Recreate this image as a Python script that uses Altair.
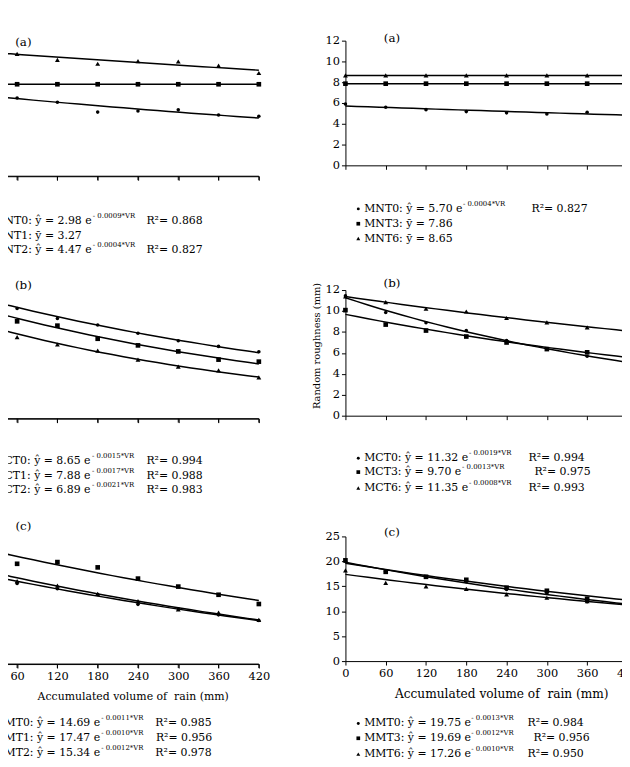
import altair as alt
import pandas as pd

# ---------------- data ----------------
VR = [0, 60, 120, 180, 240, 300, 360, 420]

# (a) no tillage
ONT0 = [3.00, 2.78, 2.63, 2.28, 2.32, 2.36, 2.18, 2.13]
ONT1 = [3.27, 3.27, 3.27, 3.27, 3.27, 3.27, 3.27, 3.27]
ONT2 = [4.50, 4.35, 4.14, 4.00, 4.09, 4.08, 3.93, 3.67]
MNT0 = [5.90, 5.59, 5.36, 5.17, 5.05, 4.95, 5.11, 4.92]
MNT3 = [7.86, 7.86, 7.86, 7.86, 7.86, 7.86, 7.86, 7.86]
MNT6 = [8.65, 8.65, 8.65, 8.65, 8.65, 8.65, 8.65, 8.65]
# (b) chisel
OCT0 = [8.60, 7.65, 6.96, 6.50, 5.93, 5.41, 5.02, 4.65]
OCT1 = [7.90, 6.76, 6.46, 5.55, 5.09, 4.67, 4.10, 3.96]
OCT2 = [6.85, 5.66, 5.15, 4.72, 4.10, 3.62, 3.35, 2.87]
MCT0 = [11.44, 9.86, 8.88, 8.13, 7.18, 6.40, 5.67, 5.13]
MCT3 = [10.08, 8.70, 8.13, 7.56, 6.99, 6.36, 6.05, 5.80]
MCT6 = [11.40, 10.84, 10.21, 9.95, 9.33, 8.92, 8.44, 8.13]
# (c) plough
OMT0 = [14.70, 13.37, 12.78, 12.15, 11.05, 10.57, 9.88, 9.25]
OMT1 = [17.40, 15.57, 15.76, 15.17, 13.92, 13.03, 12.12, 11.09]
OMT2 = [15.30, 13.63, 13.14, 12.23, 11.42, 10.50, 10.13, 9.33]
MMT0 = [20.00, 18.00, 16.90, 15.90, 14.35, 13.55, 11.90, 11.65]
MMT3 = [20.20, 17.90, 16.90, 16.30, 14.70, 14.10, 12.50, 12.80]
MMT6 = [18.20, 15.70, 15.00, 14.50, 13.36, 12.70, 12.00, 11.50]

LEG_LA = [("ONT0: ŷ = 2.98 e", "- 0.0009*VR", "R²= 0.868"),
          ("ONT1: ȳ = 3.27", "", ""),
          ("ONT2: ŷ = 4.47 e", "- 0.0004*VR", "R²= 0.827")]
LEG_RA = [("MNT0: ŷ = 5.70 e", "- 0.0004*VR", "R²= 0.827"),
          ("MNT3: ȳ = 7.86", "", ""),
          ("MNT6: ȳ = 8.65", "", "")]
LEG_LB = [("OCT0: ŷ = 8.65 e", "- 0.0015*VR", "R²= 0.994"),
          ("OCT1: ŷ = 7.88 e", "- 0.0017*VR", "R²= 0.988"),
          ("OCT2: ŷ = 6.89 e", "- 0.0021*VR", "R²= 0.983")]
LEG_RB = [("MCT0: ŷ = 11.32 e", "- 0.0019*VR", "R²= 0.994"),
          ("MCT3: ŷ = 9.70 e", "- 0.0013*VR", "R²= 0.975"),
          ("MCT6: ŷ = 11.35 e", "- 0.0008*VR", "R²= 0.993")]
LEG_LC = [("OMT0: ŷ = 14.69 e", "- 0.0011*VR", "R²= 0.985"),
          ("OMT1: ŷ = 17.47 e", "- 0.0010*VR", "R²= 0.956"),
          ("OMT2: ŷ = 15.34 e", "- 0.0012*VR", "R²= 0.978")]
LEG_RC = [("MMT0: ŷ = 19.75 e", "- 0.0013*VR", "R²= 0.984"),
          ("MMT3: ŷ = 19.69 e", "- 0.0012*VR", "R²= 0.956"),
          ("MMT6: ŷ = 17.26 e", "- 0.0010*VR", "R²= 0.950")]

X_TITLE = "Accumulated volume of\u00a0 rain (mm)"
Y_TITLE = "Random roughness (mm)"

# ---------------- styling / layout ----------------
FONT = "DejaVu Serif"
LEG_FS = 11
EXP_FS = 7
SHAPES = ["circle", "square", "triangle-up"]
PT_SIZES = [13, 22, 24]
SYM_SIZES = [9, 14, 16]
PW = 285

CW = {" ": 0.318, ".": 0.318, ":": 0.337, "=": 0.838, "e": 0.592, "ŷ": 0.592,
      "ȳ": 0.592, "M": 0.94, "N": 0.81, "O": 0.80, "C": 0.73, "T": 0.69}


def tw(s, size):
    return sum(CW.get(c, 0.636) for c in s) * size


def blank():
    return alt.Chart(alt.Data(values=[{}]))


def txt(s, x, y, size, align="left"):
    return blank().mark_text(text=s, font=FONT, fontSize=size, align=align,
                             baseline="middle", color="black").encode(
        x=alt.value(x), y=alt.value(y))


def sym(i, x, y):
    return blank().mark_point(shape=SHAPES[i], filled=True, size=SYM_SIZES[i],
                              color="black", opacity=1).encode(
        x=alt.value(x), y=alt.value(y))


def anchor(x, y):
    return blank().mark_rule(opacity=0).encode(
        x=alt.value(x), x2=alt.value(x + 1), y=alt.value(y), y2=alt.value(y))


def panel(names, series, ydom, h, yvals=None, ytitle=None, xlabels=False,
          xtitle=None, xtitle_fs=12, tag="", tag_y=0, leg=None, leg_y=None,
          r2x=None, xoff=0, anchors=()):
    df = pd.DataFrame({
        "VR": VR * 3,
        "y": series[0] + series[1] + series[2],
        "s": [names[0]] * 8 + [names[1]] * 8 + [names[2]] * 8,
    })
    xs = alt.Scale(domain=[0, 420], nice=False, zero=False)
    ys = alt.Scale(domain=ydom, nice=False, zero=False)
    xax = alt.Axis(values=VR, grid=False, tickSize=4, labels=xlabels,
                   labelPadding=3, labelFlush=False, labelOverlap=False,
                   offset=xoff, domain=True, ticks=True, title=None)
    X = alt.X("VR:Q", scale=xs, axis=xax)
    if yvals is not None:
        ykw = dict(values=yvals, grid=False, tickSize=4, labelPadding=2,
                   domain=True, ticks=True)
        if ytitle:
            yax = alt.Axis(title=ytitle, titleFontSize=10, titlePadding=4,
                           titleY=56, **ykw)
        else:
            yax = alt.Axis(title=None, **ykw)
        Y = alt.Y("y:Q", scale=ys, axis=yax)
    else:
        Y = alt.Y("y:Q", scale=ys, axis=None)

    base = alt.Chart(df)
    layers = [
        base.transform_regression("VR", "y", method="exp", groupby=["s"])
        .mark_line(color="black", strokeWidth=1.5)
        .encode(x=X, y=Y, detail="s:N")
    ]
    for i, n in enumerate(names):
        layers.append(
            base.transform_filter(alt.datum.s == n)
            .mark_point(shape=SHAPES[i], filled=True, size=PT_SIZES[i],
                        color="black", opacity=1)
            .encode(x=X, y=Y)
        )
    if yvals is None:
        # baseline and ticks of the bottom axis, drawn explicitly
        yb = h + xoff
        layers.append(blank().mark_rule(color="black", strokeWidth=1).encode(
            x=alt.value(0), x2=alt.value(PW), y=alt.value(yb)))
        layers.append(
            alt.Chart(pd.DataFrame({"t": VR})).mark_rule(color="black", strokeWidth=1)
            .encode(x=alt.X("t:Q", scale=xs, axis=xax),
                    y=alt.value(yb), y2=alt.value(yb + 4))
        )
    if xtitle:
        layers.append(txt(xtitle, 158, h + 33, xtitle_fs, align="center"))
    layers.append(txt(tag, 47, tag_y, 12, align="center"))
    for i, (main, ex, r2) in enumerate(leg):
        yy = leg_y[i]
        layers.append(sym(i, 13, yy))
        layers.append(txt(main, 19, yy, LEG_FS))
        if ex:
            layers.append(txt(ex, 19 + tw(main, LEG_FS) + 1.5, yy - 5, EXP_FS))
        if r2:
            layers.append(txt(r2, r2x[i], yy, LEG_FS))
    for ax, ay in anchors:
        layers.append(anchor(ax, ay))
    return alt.layer(*layers).properties(width=PW, height=h)


LA = panel(["ONT0", "ONT1", "ONT2"], [ONT0, ONT1, ONT2], [0, 4.82], 137,
           tag="(a)", tag_y=1, leg=LEG_LA, leg_y=[182, 197, 212],
           r2x=[171.4, 0, 171.4], anchors=[(-30, -20)])
RA = panel(["MNT0", "MNT3", "MNT6"], [MNT0, MNT3, MNT6], [0, 12], 126,
           yvals=[0, 2, 4, 6, 8, 10, 12], tag="(a)", tag_y=-3, leg=LEG_RA,
           leg_y=[170, 185, 200], r2x=[188, 0, 0])
LB = panel(["OCT0", "OCT1", "OCT2"], [OCT0, OCT1, OCT2], [-0.275, 8.935], 134,
           tag="(b)", tag_y=-5, leg=LEG_LB, leg_y=[173, 188, 202],
           r2x=[171.4, 171.4, 171.4], xoff=-4)
RB = panel(["MCT0", "MCT3", "MCT6"], [MCT0, MCT3, MCT6], [0, 12], 127,
           yvals=[0, 2, 4, 6, 8, 10, 12], ytitle=Y_TITLE, tag="(b)", tag_y=-7,
           leg=LEG_RB, leg_y=[170, 184, 200], r2x=[185, 191, 185])
LC = panel(["OMT0", "OMT1", "OMT2"], [OMT0, OMT1, OMT2], [4.4, 18.62], 129,
           xlabels=True, xtitle=X_TITLE, xtitle_fs=11, tag="(c)", tag_y=-10,
           leg=LEG_LC, leg_y=[189, 204, 219], r2x=[180.4, 181, 180.4])
RC = panel(["MMT0", "MMT3", "MMT6"], [MMT0, MMT3, MMT6], [0, 25], 126,
           yvals=[0, 5, 10, 15, 20, 25], xlabels=True, xtitle=X_TITLE,
           xtitle_fs=12.3, tag="(c)", tag_y=-4, leg=LEG_RC,
           leg_y=[189, 204, 220], r2x=[184, 190, 184], anchors=[(310, 235)])

chart = (
    alt.concat(LA, RA, LB, RB, LC, RC, columns=2,
               spacing={"row": 115, "column": 87.5}, bounds="flush")
    .properties(padding={"left": -61.5, "top": 9, "right": -32, "bottom": -8})
    .configure_view(strokeWidth=0)
    .configure_axis(domainColor="black", tickColor="black", labelColor="black",
                    labelFont=FONT, labelFontSize=11.5, titleFont=FONT,
                    titleFontWeight="normal", titleColor="black",
                    domainWidth=1, tickWidth=1)
)

chart.save("out.html", embed_options={"renderer": "svg", "actions": False})
